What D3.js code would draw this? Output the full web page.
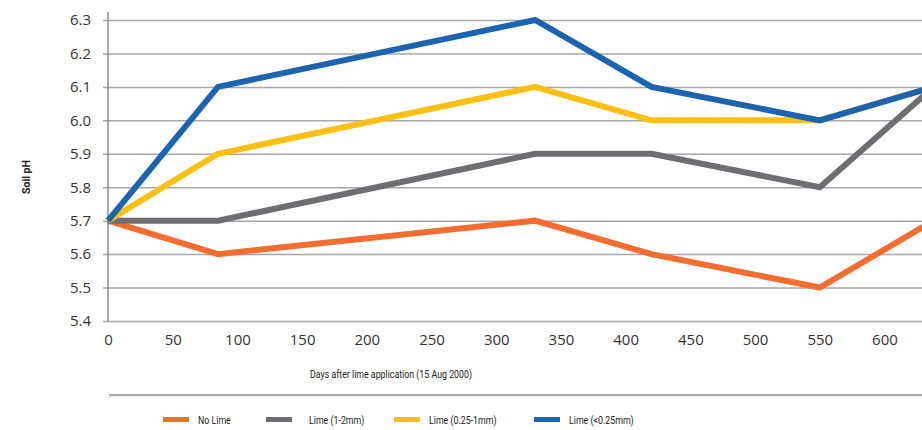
<!DOCTYPE html>
<html>
<head>
<meta charset="utf-8">
<script src="https://cdn.jsdelivr.net/npm/d3@7"></script>
<style>
  html, body { margin: 0; padding: 0; background: #fff; }
  svg { display: block; }
  .tick-label { font-family: "Open Sans", "Noto Sans", sans-serif; font-size: 15px; fill: #333; }
  .small { font-family: "Roboto", sans-serif; font-size: 10.5px; fill: #222; }
</style>
</head>
<body>
<svg id="chart" width="922" height="430"></svg>
<script>
// ---- data ----
const days = [0, 85, 330, 420, 550, 638];
const seriesNames = ["No Lime", "Lime (1-2mm)", "Lime (0.25-1mm)", "Lime (<0.25mm)"];
const noLime   = [5.7, 5.6, 5.7, 5.6, 5.5, 5.7];
const lime1to2 = [5.7, 5.7, 5.9, 5.9, 5.8, 6.1];
const lime025to1 = [5.7, 5.9, 6.1, 6.0, 6.0, 6.1];
const limeLt025 = [5.7, 6.1, 6.3, 6.1, 6.0, 6.1];
const xTicks = [0, 50, 100, 150, 200, 250, 300, 350, 400, 450, 500, 550, 600];
const yTicks = [5.4, 5.5, 5.6, 5.7, 5.8, 5.9, 6.0, 6.1, 6.2, 6.3];
const colors = ["#f26d2f", "#6d6e71", "#fdbf12", "#1c63b0"];

const seriesValues = [noLime, lime1to2, lime025to1, limeLt025];

const svg = d3.select("#chart");
const mLeft = 108, mRight = 922, mTop = 20, mBottom = 321;
const squeeze = 0.84;

const x = d3.scaleLinear().domain([0, 629]).range([mLeft, mRight]);
const y = d3.scaleLinear().domain([5.4, 6.3]).range([mBottom, mTop]);

// gridlines + y ticks
const yAxis = d3.axisLeft(y).tickValues(yTicks).tickFormat(d3.format(".1f"))
  .tickSize(-(mRight - mLeft)).tickPadding(12);
const gy = svg.append("g").attr("transform", `translate(${mLeft},0)`).call(yAxis);
gy.select(".domain").remove();
gy.selectAll(".tick line").attr("stroke", "#a5a7aa").attr("stroke-width", 1.5).attr("x1", -5);
gy.selectAll(".tick text").attr("class", "tick-label").attr("x", -17);

// y axis line
svg.append("line").attr("x1", mLeft).attr("x2", mLeft).attr("y1", 12).attr("y2", mBottom)
  .attr("stroke", "#8a8c8e").attr("stroke-width", 1.5);

// x ticks labels
const xAxis = d3.axisBottom(x).tickValues(xTicks).tickSize(0).tickPadding(10);
const gx = svg.append("g").attr("transform", `translate(0,${mBottom})`).call(xAxis);
gx.select(".domain").remove();
gx.selectAll(".tick text").attr("class", "tick-label").attr("dy", "0.9em");

// clip
svg.append("clipPath").attr("id", "clip").append("rect")
  .attr("x", mLeft - 10).attr("y", 0).attr("width", mRight - mLeft + 10).attr("height", 340);

const line = d3.line().x((d, i) => x(days[i])).y(d => y(d));
const gl = svg.append("g").attr("clip-path", "url(#clip)");
seriesValues.forEach((vals, i) => {
  gl.append("path").datum(vals).attr("d", line)
    .attr("fill", "none").attr("stroke", colors[i]).attr("stroke-width", 6)
    .attr("stroke-linejoin", "miter").attr("stroke-linecap", "butt");
});

// axis titles
svg.append("text").attr("class", "small").attr("text-anchor", "middle")
  .attr("transform", "translate(30,177) rotate(-90)").style("font-weight", "bold")
  .text("Soil pH");
svg.append("text").attr("class", "small").attr("text-anchor", "middle")
  .attr("transform", `translate(391,378) scale(${squeeze},1)`)
  .text("Days after lime application (15 Aug 2000)");

// separator
svg.append("line").attr("x1", 109).attr("x2", 922).attr("y1", 395).attr("y2", 395)
  .attr("stroke", "#8a8c8e").attr("stroke-width", 1.5);
svg.append("line").attr("x1", 109).attr("x2", 922).attr("y1", 397).attr("y2", 397)
  .attr("stroke", "#e2e3e4").attr("stroke-width", 1);

// legend
const legendX = [163, 266, 394, 534];
const legendTextX = [198, 309, 429, 569];
const lg = svg.append("g");
seriesNames.forEach((name, i) => {
  lg.append("rect").attr("x", legendX[i]).attr("y", 417).attr("width", 26).attr("height", 5)
    .attr("fill", colors[i]);
  lg.append("text").attr("class", "small")
    .attr("transform", `translate(${legendTextX[i]},424) scale(${squeeze},1)`).text(name);
});
</script>
</body>
</html>
